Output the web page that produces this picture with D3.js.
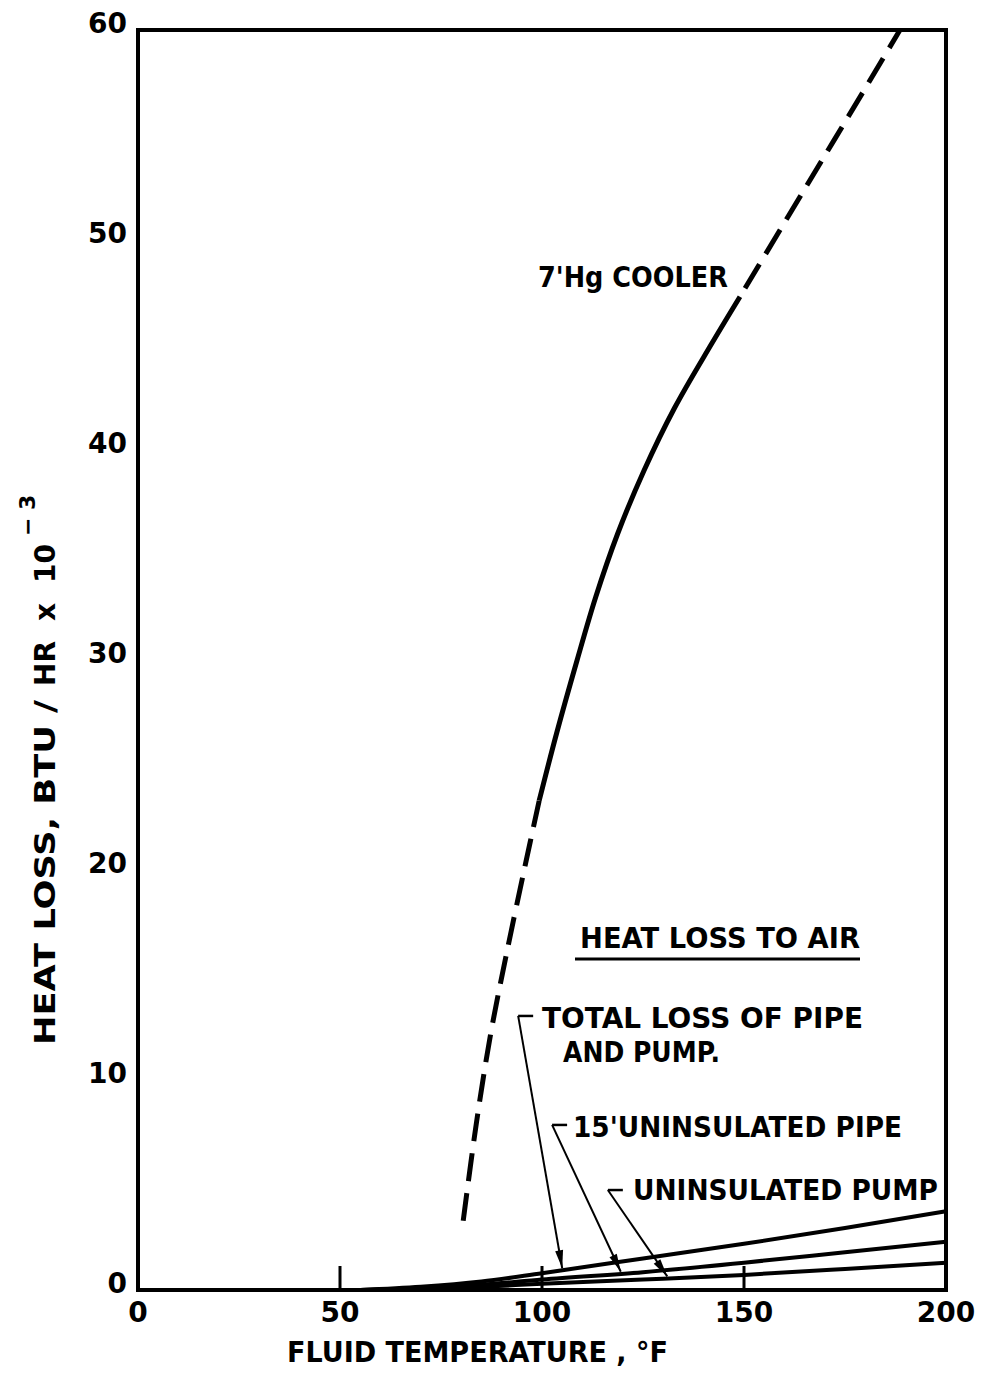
<!DOCTYPE html>
<html><head><meta charset="utf-8">
<script src="https://cdn.jsdelivr.net/npm/d3@7"></script>
<style>
html,body{margin:0;padding:0;background:#fff;}
svg text{font-family:"DejaVu Sans","Liberation Sans",sans-serif;font-weight:bold;fill:#000;}
</style></head>
<body>
<svg id="c" width="984" height="1374"></svg>
<script>
// ---- data ----
const xTicks = [0, 50, 100, 150, 200];
const yTicks = [0, 10, 20, 30, 40, 50, 60];
const innerTicks = [50, 100, 150];

// 7' Hg cooler curve (dashed / solid / dashed sections)
const coolerLowT  = [80.5, 83.8, 87.3, 91.2, 95.7, 99.3];
const coolerLowH  = [3.3, 8.0, 12.2, 16.0, 20.1, 23.3];
const coolerMidT  = [99.3, 103.6, 108.7, 113.3, 118.7, 125.2, 132.8, 141.8, 149];
const coolerMidH  = [23.3, 26.5, 30.0, 33.0, 36.0, 39.0, 42.0, 45.0, 47.3];
const coolerHighT = [149, 159, 169, 179, 188.6];
const coolerHighH = [47.3, 50.5, 53.7, 56.9, 60.0];

// heat loss to air
const airT      = [55, 70, 85, 100, 125, 150, 175, 200];
const totalLoss = [0, 0.15, 0.4, 0.8, 1.5, 2.2, 2.95, 3.75];
const pipeLoss  = [0, 0.08, 0.25, 0.5, 0.85, 1.3, 1.8, 2.3];
const pumpLoss  = [0, 0.05, 0.15, 0.3, 0.5, 0.72, 1.0, 1.3];

// annotation labels
const labelTexts = ["TOTAL LOSS  OF PIPE", "AND PUMP.", "15'UNINSULATED  PIPE", "UNINSULATED  PUMP"];

// ---- chart ----
const svg = d3.select("#c");
const x = d3.scaleLinear().domain([0, 200]).range([138, 946]);
const y = d3.scaleLinear().domain([0, 60]).range([1290, 30]);

const line = d3.line().x(d => x(d[0])).y(d => y(d[1])).curve(d3.curveMonotoneX);
const smooth = d3.line().x(d => x(d[0])).y(d => y(d[1])).curve(d3.curveCatmullRom.alpha(0.5));
const zip = (a, b) => a.map((v, i) => [v, b[i]]);

// frame
svg.append("rect").attr("x", x(0)).attr("y", y(60))
  .attr("width", x(200) - x(0)).attr("height", y(0) - y(60))
  .attr("fill", "none").attr("stroke", "#000").attr("stroke-width", 4);

// inner ticks on bottom axis
svg.selectAll(".itick").data(innerTicks).enter().append("line")
  .attr("x1", d => x(d)).attr("x2", d => x(d))
  .attr("y1", y(0)).attr("y2", y(0) - 24)
  .attr("stroke", "#000").attr("stroke-width", 3);

// tick labels
svg.selectAll(".xl").data(xTicks).enter().append("text")
  .attr("x", d => x(d)).attr("y", y(0) + 32)
  .attr("text-anchor", "middle").attr("font-size", 28)
  .text(d => d);
svg.selectAll(".yl").data(yTicks).enter().append("text")
  .attr("x", x(0) - 11).attr("y", d => y(d) + 3)
  .attr("text-anchor", "end").attr("font-size", 28)
  .text(d => d);

// axis titles
svg.append("text").attr("x", 287).attr("y", 1362)
  .attr("font-size", 28).attr("textLength", 381).attr("lengthAdjust", "spacingAndGlyphs")
  .text("FLUID  TEMPERATURE , \u00B0F");
const yt = svg.append("text").attr("transform", "translate(55,1045) rotate(-90)")
  .attr("font-size", 28);
yt.append("tspan").attr("textLength", 345).attr("lengthAdjust", "spacingAndGlyphs")
  .text("HEAT LOSS,  BTU /");
yt.append("tspan").attr("dx", 14).text("HR");
yt.append("tspan").attr("dx", 20).text("x");
yt.append("tspan").attr("dx", 20).text("10");
yt.append("tspan").attr("dx", 8).attr("dy", -20).attr("font-size", 22).text("\u2212 3");

// heat loss to air lines
[totalLoss, pipeLoss, pumpLoss].forEach(s => {
  svg.append("path").attr("d", line(zip(airT, s)))
    .attr("fill", "none").attr("stroke", "#000").attr("stroke-width", 4);
});

// cooler curve
svg.append("path").attr("d", smooth(zip(coolerLowT, coolerLowH)))
  .attr("fill", "none").attr("stroke", "#000").attr("stroke-width", 5)
  .attr("stroke-dasharray", "28,12");
svg.append("path").attr("d", smooth(zip(coolerMidT, coolerMidH)))
  .attr("fill", "none").attr("stroke", "#000").attr("stroke-width", 5);
svg.append("path").attr("d", smooth(zip(coolerHighT, coolerHighH)))
  .attr("fill", "none").attr("stroke", "#000").attr("stroke-width", 5)
  .attr("stroke-dasharray", "28,12").attr("stroke-dashoffset", -10);

// cooler label
svg.append("text").attr("x", 538).attr("y", 287).attr("font-size", 29)
  .attr("textLength", 190).attr("lengthAdjust", "spacingAndGlyphs")
  .text("7'Hg COOLER");

// heading
svg.append("text").attr("x", 580).attr("y", 948).attr("font-size", 28)
  .attr("textLength", 280).attr("lengthAdjust", "spacingAndGlyphs")
  .text("HEAT LOSS  TO AIR");
svg.append("line").attr("x1", 575).attr("x2", 860).attr("y1", 959).attr("y2", 959)
  .attr("stroke", "#000").attr("stroke-width", 3);

// annotation labels
const lblX = [542, 563, 573, 633], lblY = [1028, 1062, 1137, 1200], lblW = [321, 157, 329, 305];
labelTexts.forEach((t, i) => {
  svg.append("text").attr("x", lblX[i]).attr("y", lblY[i]).attr("font-size", 29)
    .attr("textLength", lblW[i]).attr("lengthAdjust", "spacingAndGlyphs").text(t);
});

// leaders with arrows
const leaderCornerT = [94.1, 102.5, 116.3];
const leaderCornerH = [13.05, 7.86, 4.76];
const leaderTargetT = [105, 119.5, 131];
const leaderSeries = [totalLoss, pipeLoss, pumpLoss];
leaderCornerT.forEach((ct, i) => {
  const cx = x(ct), cy = y(leaderCornerH[i]);
  const tT = leaderTargetT[i];
  const interp = d3.scaleLinear().domain(airT).range(leaderSeries[i]);
  const tx = x(tT), ty = y(interp(tT)) - 2;
  svg.append("line").attr("x1", cx).attr("y1", cy).attr("x2", cx + 15).attr("y2", cy)
    .attr("stroke", "#000").attr("stroke-width", 2.5);
  svg.append("line").attr("x1", cx).attr("y1", cy).attr("x2", tx).attr("y2", ty)
    .attr("stroke", "#000").attr("stroke-width", 2);
  const ang = Math.atan2(ty - cy, tx - cx);
  const L = 18, W = 4;
  const bx = tx - L * Math.cos(ang), by = ty - L * Math.sin(ang);
  const px = -Math.sin(ang) * W, py = Math.cos(ang) * W;
  svg.append("path")
    .attr("d", `M${tx},${ty}L${bx + px},${by + py}L${bx - px},${by - py}Z`)
    .attr("fill", "#000");
});
</script>
</body></html>
